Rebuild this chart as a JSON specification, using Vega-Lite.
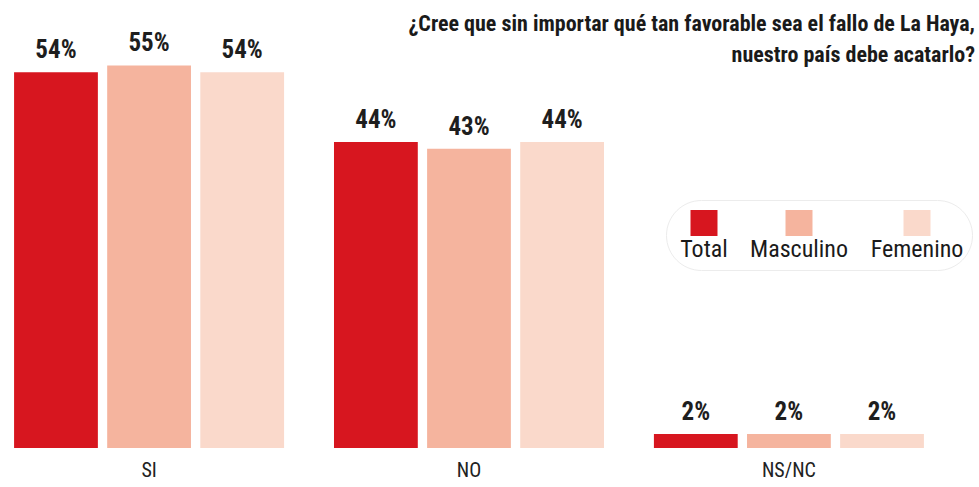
{
  "$schema": "https://vega.github.io/schema/vega-lite/v6.json",
  "autosize": {"type": "none"},
  "padding": {"left": 0, "top": 0, "right": 41, "bottom": 39},
  "width": 938,
  "height": 448,
  "background": "#ffffff",
  "title": {
    "text": ["¿Cree que sin importar qué tan favorable sea el fallo de La Haya,", "nuestro país debe acatarlo?"],
    "anchor": "end",
    "frame": "group",
    "align": "right",
    "dx": 37,
    "offset": -67,
    "font": "Roboto Condensed, DejaVu Sans Condensed, Roboto",
    "fontWeight": "bold",
    "fontSize": 22,
    "lineHeight": 31,
    "color": "#1a1a1a"
  },
  "data": {
    "values": [
      {"respuesta": "SI", "grupo": "Total", "valor": 0.54},
      {"respuesta": "SI", "grupo": "Masculino", "valor": 0.55},
      {"respuesta": "SI", "grupo": "Femenino", "valor": 0.54},
      {"respuesta": "NO", "grupo": "Total", "valor": 0.44},
      {"respuesta": "NO", "grupo": "Masculino", "valor": 0.43},
      {"respuesta": "NO", "grupo": "Femenino", "valor": 0.44},
      {"respuesta": "NS/NC", "grupo": "Total", "valor": 0.02},
      {"respuesta": "NS/NC", "grupo": "Masculino", "valor": 0.02},
      {"respuesta": "NS/NC", "grupo": "Femenino", "valor": 0.02}
    ]
  },
  "encoding": {
    "x": {
      "field": "respuesta",
      "type": "nominal",
      "sort": ["SI", "NO", "NS/NC"],
      "scale": {"paddingInner": 0.156, "paddingOuter": 0.044},
      "axis": {
        "title": null,
        "labelAngle": 0,
        "domain": false,
        "ticks": false,
        "labelPadding": 12,
        "labelFont": "Roboto Condensed, DejaVu Sans Condensed, Roboto",
        "labelFontSize": 20,
        "labelColor": "#222222"
      }
    },
    "xOffset": {
      "field": "grupo",
      "type": "nominal",
      "sort": ["Total", "Masculino", "Femenino"],
      "scale": {"paddingInner": 0.1, "paddingOuter": 0}
    },
    "y": {
      "field": "valor",
      "type": "quantitative",
      "scale": {"domain": [0, 0.644], "nice": false, "zero": true},
      "axis": null
    }
  },
  "layer": [
    {
      "mark": {"type": "bar"},
      "encoding": {
        "color": {
          "field": "grupo",
          "type": "nominal",
          "sort": ["Total", "Masculino", "Femenino"],
          "scale": {"domain": ["Total", "Masculino", "Femenino"], "range": ["#d7161f", "#f5b49e", "#fad9cb"]},
          "legend": {
            "title": null,
            "orient": "none",
            "legendX": 666,
            "legendY": 200,
            "direction": "horizontal",
            "columns": 3,
            "columnPadding": 22,
            "padding": 8,
            "fillColor": "#ffffff",
            "strokeColor": "#ececec",
            "cornerRadius": 36,
            "symbolType": "M-0.45,-0.933H0.45V-0.067H-0.45Z",
            "symbolSize": 3600,
            "symbolStrokeWidth": 0,
            "symbolOpacity": 1,
            "labelAlign": "center",
            "labelBaseline": "top",
            "labelOffset": -30,
            "labelFont": "Roboto Condensed, DejaVu Sans Condensed, Roboto",
            "labelFontSize": 24,
            "labelColor": "#1a1a1a",
            "labelLimit": 200
          }
        }
      }
    },
    {
      "mark": {
        "type": "text",
        "baseline": "bottom",
        "dy": -9,
        "font": "Roboto Condensed, DejaVu Sans Condensed, Roboto",
        "fontWeight": "bold",
        "fontSize": 25,
        "color": "#1e1e1e"
      },
      "encoding": {
        "text": {"field": "valor", "type": "quantitative", "format": ".0%"}
      }
    }
  ],
  "config": {
    "view": {"stroke": null}
  }
}
